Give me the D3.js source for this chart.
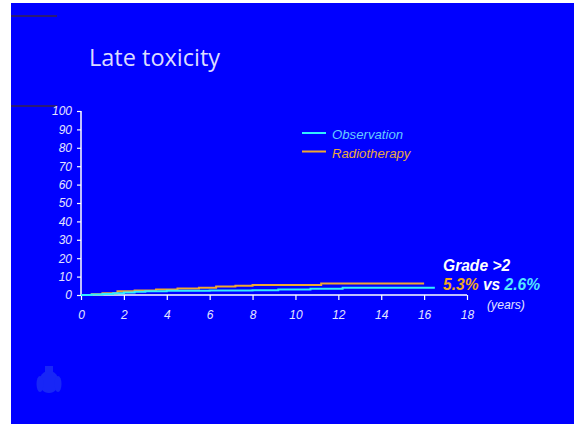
<!DOCTYPE html>
<html><head><meta charset="utf-8">
<script src="https://cdn.jsdelivr.net/npm/d3@7"></script>
<style>body{margin:0;background:#fff}svg{display:block}</style>
</head><body>
<svg id="c" width="574" height="424"></svg>
<script>
const yTicks = [0,10,20,30,40,50,60,70,80,90,100];
const xTicks = [0,2,4,6,8,10,12,14,16,18];
const seriesNames = ["Observation","Radiotherapy"];
// step curves: [years, % toxicity]
const observation = [[0,0],[0.5,0.3],[1,0.6],[1.5,1.0],[2,1.4],[2.5,1.7],[3,2.0],[4,2.3],[6,2.4],[8,2.6],[9.2,3.0],[10.7,3.4],[12.2,4.0],[16.5,4.0]];
const radiotherapy = [[0,0],[0.5,0.4],[1,0.9],[1.7,2.0],[2.5,2.5],[3.5,3.0],[4.5,3.5],[5.5,4.0],[6.3,4.6],[7.2,5.0],[8,5.4],[11.1,5.4],[11.2,6.2],[16,6.2]];
const gradeLabel = "Grade >2";
const rateRT = "5.3%", rateObs = "2.6%";

const svg = d3.select("#c");
svg.append("rect").attr("x",11).attr("y",3).attr("width",563).attr("height",421).attr("fill","#0000ff");
// decorative dark rules
[16,106].forEach(y=>svg.append("line").attr("x1",11).attr("x2",57).attr("y1",y).attr("y2",y).attr("stroke","#3a2448").attr("stroke-width",1.5));

svg.append("text").attr("x",89).attr("y",66).text("Late toxicity")
  .attr("font-family","'Open Sans'").attr("font-size",23.5).attr("fill","#dcdcff");

const x = d3.scaleLinear().domain([0,18]).range([81,467]);
const y = d3.scaleLinear().domain([0,100]).range([295,111]);
const txt = "#e4e4ff";

const ya = svg.append("g").attr("transform","translate(81,0)")
  .call(d3.axisLeft(y).tickValues(yTicks).tickSize(4).tickPadding(5));
const xa = svg.append("g").attr("transform","translate(0,295)")
  .call(d3.axisBottom(x).tickValues(xTicks).tickSize(5).tickPadding(10));
[ya,xa].forEach(a=>{
  a.select(".domain").attr("stroke","#fff").attr("stroke-width",1.5);
  a.selectAll(".tick line").attr("stroke","#fff").attr("stroke-width",1.2);
  a.selectAll("text").attr("fill",txt).attr("font-family","'Liberation Sans',Arial").attr("font-style","italic").attr("font-size",12);
});
ya.select(".domain").attr("d","M0,295V111");
xa.select(".domain").attr("d","M81,0H467");

const line = d3.line().x(d=>x(d[0])).y(d=>y(d[1])).curve(d3.curveStepAfter);
svg.append("path").datum(radiotherapy).attr("d",line).attr("fill","none").attr("stroke","#f0a830").attr("stroke-width",2);
svg.append("path").datum(observation).attr("d",line).attr("fill","none").attr("stroke","#33eeff").attr("stroke-width",2);

// legend
const legCol = ["#33eeff","#f0a830"], legTxt = ["#66ccff","#e8a840"];
seriesNames.forEach((n,i)=>{
  const yy = 133 + i*18.5;
  svg.append("line").attr("x1",302).attr("x2",326).attr("y1",yy).attr("y2",yy).attr("stroke",legCol[i]).attr("stroke-width",2);
  svg.append("text").attr("x",332).attr("y",yy+6).text(n).attr("fill",legTxt[i])
    .attr("font-family","'Liberation Sans',Arial").attr("font-style","italic").attr("font-size",13.2);
});

// annotation
const ann = svg.append("g").attr("font-family","'Liberation Sans',Arial").attr("font-style","italic").attr("font-weight","bold").attr("font-size",15.6);
ann.append("text").attr("x",443).attr("y",271).attr("fill","#ffffff").text(gradeLabel);
const t2 = ann.append("text").attr("x",443).attr("y",290);
t2.append("tspan").attr("fill","#f0a820").text(rateRT);
t2.append("tspan").attr("fill","#ffffff").text(" vs ");
t2.append("tspan").attr("fill","#55e6ff").text(rateObs);
svg.append("text").attr("x",487).attr("y",309).text("(years)").attr("fill",txt)
  .attr("font-family","'Liberation Sans',Arial").attr("font-style","italic").attr("font-size",12.2);

// faint crest
const cr = svg.append("g").attr("fill","#1e30f4").attr("opacity",0.8);
cr.append("ellipse").attr("cx",49).attr("cy",382).attr("rx",10).attr("ry",11);
cr.append("rect").attr("x",45).attr("y",366).attr("width",8).attr("height",7);
cr.append("ellipse").attr("cx",40).attr("cy",384).attr("rx",3.5).attr("ry",8);
cr.append("ellipse").attr("cx",58).attr("cy",384).attr("rx",3.5).attr("ry",8);
</script>
</body></html>
